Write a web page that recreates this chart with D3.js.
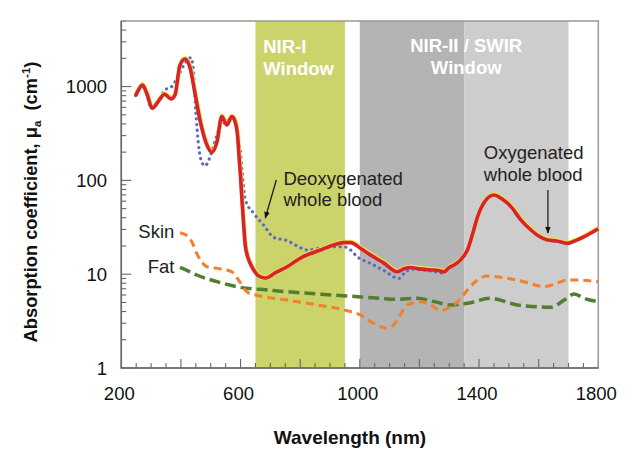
<!DOCTYPE html>
<html><head><meta charset="utf-8">
<script src="https://cdn.jsdelivr.net/npm/d3@7"></script>
<style>body{margin:0;background:#fff}svg{display:block}text{font-family:"Liberation Sans",Arial,sans-serif}</style>
</head><body>
<svg id="c" width="638" height="458"></svg>
<script>
// ---- data ----
const xTicks = [200, 600, 1000, 1400, 1800];
const yTicks = [1, 10, 100, 1000];
const bands = [
  {from: 650, to: 950, color: "#ccd36b"},
  {from: 1000, to: 1350, color: "#b4b4b4"},
  {from: 1350, to: 1700, color: "#cdcdcd"}
];
const oxyWl  = [248,260,271,285,304,325,345,367,380,397,414,431,448,465,487,504,521,537,554,571,582,590,596,600,605,610,616,630,644,660,683,720,756,800,868,920,946,969,1002,1036,1080,1126,1150,1170,1200,1238,1260,1282,1300,1316,1340,1361,1380,1395,1420,1450,1475,1507,1540,1574,1600,1630,1660,1697,1720,1753,1780,1800];
const oxyVal = [800,950,1040,850,587,700,828,738,815,1700,1970,1567,815,422,238,199,259,478,390,478,420,300,160,110,60,35,20,13.5,11.1,9.6,9.1,10.5,12,14.8,18.1,20.8,21.7,21.7,18.9,16,13.2,10.6,11.5,11.8,11.4,11.1,11.0,10.6,11.8,12.5,14.5,18.1,28,41,60,69.9,64,52.5,38,29.6,25.5,23.1,22.6,21.3,22.5,25.1,28,30.5];
const deoxyWl  = [248,271,304,325,347,369,392,414,434,442,450,459,472,481,498,521,537,554,571,582,592,599,605,616,644,677,711,756,790,823,860,901,946,969,991,1036,1080,1131,1150,1170,1238,1282];
const deoxyVal = [800,1040,590,720,920,1000,1330,1770,2033,1442,540,238,152,143,179,305,400,420,470,410,280,211,129,62,44.6,33.5,24.7,22.8,20,18.1,18.8,19.6,19.6,18.1,15.4,13,11,9.0,10.3,11.3,10.8,10.2];
const skinWl  = [397,425,440,453,470,487,532,571,593,621,666,756,857,958,1000,1036,1070,1092,1110,1126,1159,1204,1238,1271,1300,1316,1340,1361,1395,1428,1473,1551,1618,1660,1697,1750,1800];
const skinVal = [27.7,25.1,21,16.7,13.5,12,11.4,10.6,8.7,6.5,5.86,5.3,4.7,4.08,3.7,3.12,2.76,2.65,2.8,3.25,4.7,5.09,4.7,4.08,4.4,4.7,5.6,6.79,8.7,9.57,9.27,8.32,7.36,8.0,8.7,8.6,8.32];
const fatWl  = [397,425,453,521,599,689,857,958,1070,1126,1193,1250,1305,1361,1439,1529,1641,1686,1719,1753,1800];
const fatVal = [11.8,10.8,9.8,8.32,7.25,6.79,6.15,5.86,5.53,5.4,5.53,5.1,4.7,4.9,5.53,4.7,4.44,5.3,6.15,5.53,5.09];

// ---- layout ----
const svg = d3.select("#c");
const m = {l: 121.3, t: 21, r: 598.3, b: 368};
const x = d3.scaleLinear().domain([200, 1800]).range([m.l, m.r]);
const y = d3.scaleLog().domain([1, 5000]).range([m.b, m.t]);
const F = "18.5px";

// bands
svg.selectAll("rect.band").data(bands).enter().append("rect")
  .attr("x", d => x(d.from)).attr("width", d => x(d.to) - x(d.from))
  .attr("y", m.t).attr("height", m.b - m.t).attr("fill", d => d.color);

// band labels
const nir1 = svg.append("text").attr("fill", "#fff").attr("font-weight", "bold").attr("font-size", F)
  .attr("x", x(676)).attr("y", m.t + 32);
nir1.append("tspan").text("NIR-I");
nir1.append("tspan").attr("x", x(676)).attr("dy", 22).text("Window");
const nir2 = svg.append("text").attr("fill", "#fff").attr("font-weight", "bold").attr("font-size", F)
  .attr("text-anchor", "middle").attr("x", x(1357)).attr("y", m.t + 31);
nir2.append("tspan").text("NIR-II / SWIR");
nir2.append("tspan").attr("x", x(1357)).attr("dy", 22).text("Window");

// ticks (inward)
const minorX = d3.range(250, 1800, 50).filter(v => v % 200 !== 0);
const majorX = d3.range(200, 1801, 200);
const gT = svg.append("g").attr("stroke", "#666").attr("stroke-width", 1.1);
gT.selectAll("line.mx").data(minorX).enter().append("line")
  .attr("x1", d => x(d)).attr("x2", d => x(d)).attr("y1", m.b).attr("y2", m.b - 5);
gT.selectAll("line.Mx").data(majorX).enter().append("line")
  .attr("x1", d => x(d)).attr("x2", d => x(d)).attr("y1", m.b).attr("y2", m.b - 9);
const minorY = [];
[1, 10, 100, 1000].forEach(dec => { for (let k = 2; k <= 9; k++) if (dec * k <= 5000) minorY.push(dec * k); });
gT.selectAll("line.my").data(minorY).enter().append("line")
  .attr("x1", m.l).attr("x2", m.l + 5).attr("y1", d => y(d)).attr("y2", d => y(d));
gT.selectAll("line.My").data(yTicks).enter().append("line")
  .attr("x1", m.l).attr("x2", m.l + 10).attr("y1", d => y(d)).attr("y2", d => y(d));

// frame
svg.append("rect").attr("x", m.l).attr("y", m.t).attr("width", m.r - m.l).attr("height", m.b - m.t)
  .attr("fill", "none").attr("stroke", "#999").attr("stroke-width", 1.5);
svg.append("path").attr("d", `M${m.l},${m.t}V${m.b}H${m.r}`).attr("fill", "none").attr("stroke", "#666").attr("stroke-width", 1.5);

// tick labels
svg.selectAll("text.xt").data(xTicks).enter().append("text")
  .attr("x", d => x(d) - 2).attr("y", 400).attr("text-anchor", "middle").attr("font-size", F).attr("fill", "#111")
  .text(d => d);
svg.selectAll("text.yt").data(yTicks).enter().append("text")
  .attr("x", 107).attr("y", d => y(d) + 6.5).attr("text-anchor", "end").attr("font-size", F).attr("fill", "#111")
  .text(d => d);

// axis titles
svg.append("text").attr("x", 350).attr("y", 444).attr("text-anchor", "middle")
  .attr("font-size", "19px").attr("font-weight", "bold").attr("fill", "#111").text("Wavelength (nm)");
const yl = svg.append("text").attr("transform", "translate(37,202) rotate(-90)").attr("text-anchor", "middle")
  .attr("font-size", "18.3px").attr("font-weight", "bold").attr("fill", "#111").attr("xml:space", "preserve")
  .style("white-space", "pre");
yl.append("tspan").text("Absorption coefficient, μ");
yl.append("tspan").attr("font-size", "11.5px").attr("dy", 4).text("a");
yl.append("tspan").attr("dy", -4).text("  (cm");
yl.append("tspan").attr("font-size", "11.5px").attr("dy", -7).text("-1");
yl.append("tspan").attr("dy", 7).text(")");

// curves
const line = d3.line().x(d => x(d[0])).y(d => y(d[1])).curve(d3.curveMonotoneX);
const zip = (a, b) => a.map((v, i) => [v, b[i]]);
svg.append("path").datum(zip(fatWl, fatVal)).attr("d", line).attr("fill", "none")
  .attr("stroke", "#4f7f2f").attr("stroke-width", 3.5).attr("stroke-dasharray", "11 5");
svg.append("path").datum(zip(skinWl, skinVal)).attr("d", line).attr("fill", "none")
  .attr("stroke", "#f47f2c").attr("stroke-width", 3).attr("stroke-dasharray", "8 5");
svg.append("path").datum(zip(deoxyWl, deoxyVal)).attr("d", line).attr("fill", "none")
  .attr("stroke", "#5b6ac2").attr("stroke-width", 3.2).attr("stroke-linecap", "round").attr("stroke-dasharray", "0.1 5.6");
svg.append("path").datum(zip(oxyWl, oxyVal)).attr("d", line).attr("fill", "none")
  .attr("stroke", "#f2e04a").attr("stroke-width", 4.2).attr("transform", "translate(0.3,-0.9)");
svg.append("path").datum(zip(oxyWl, oxyVal)).attr("d", line).attr("fill", "none")
  .attr("stroke", "#d7232b").attr("stroke-width", 3.6);

// annotations
svg.append("defs").append("marker").attr("id", "ah").attr("viewBox", "0 0 10 10")
  .attr("refX", 9).attr("refY", 5).attr("markerWidth", 7).attr("markerHeight", 7).attr("orient", "auto")
  .attr("markerUnits", "userSpaceOnUse")
  .append("path").attr("d", "M0,1L10,5L0,9Z").attr("fill", "#111");
svg.append("line").attr("x1", x(720)).attr("y1", y(101)).attr("x2", x(683)).attr("y2", y(39.7))
  .attr("stroke", "#111").attr("stroke-width", 1.2).attr("marker-end", "url(#ah)");
svg.append("line").attr("x1", x(1631)).attr("y1", y(79)).attr("x2", x(1631)).attr("y2", y(27.5))
  .attr("stroke", "#111").attr("stroke-width", 1.2).attr("marker-end", "url(#ah)");

const t1 = svg.append("text").attr("font-size", F).attr("fill", "#222").attr("x", x(744)).attr("y", y(89));
t1.append("tspan").text("Deoxygenated");
t1.append("tspan").attr("x", x(744)).attr("dy", 21).text("whole blood");
const t2 = svg.append("text").attr("font-size", F).attr("fill", "#222").attr("x", x(1416)).attr("y", y(168));
t2.append("tspan").text("Oxygenated");
t2.append("tspan").attr("x", x(1416)).attr("dy", 21.5).text("whole blood");
svg.append("text").attr("font-size", F).attr("fill", "#222").attr("text-anchor", "end")
  .attr("x", x(378)).attr("y", y(24.3)).text("Skin");
svg.append("text").attr("font-size", F).attr("fill", "#222").attr("text-anchor", "end")
  .attr("x", x(378)).attr("y", y(10.3)).text("Fat");
</script>
</body></html>
